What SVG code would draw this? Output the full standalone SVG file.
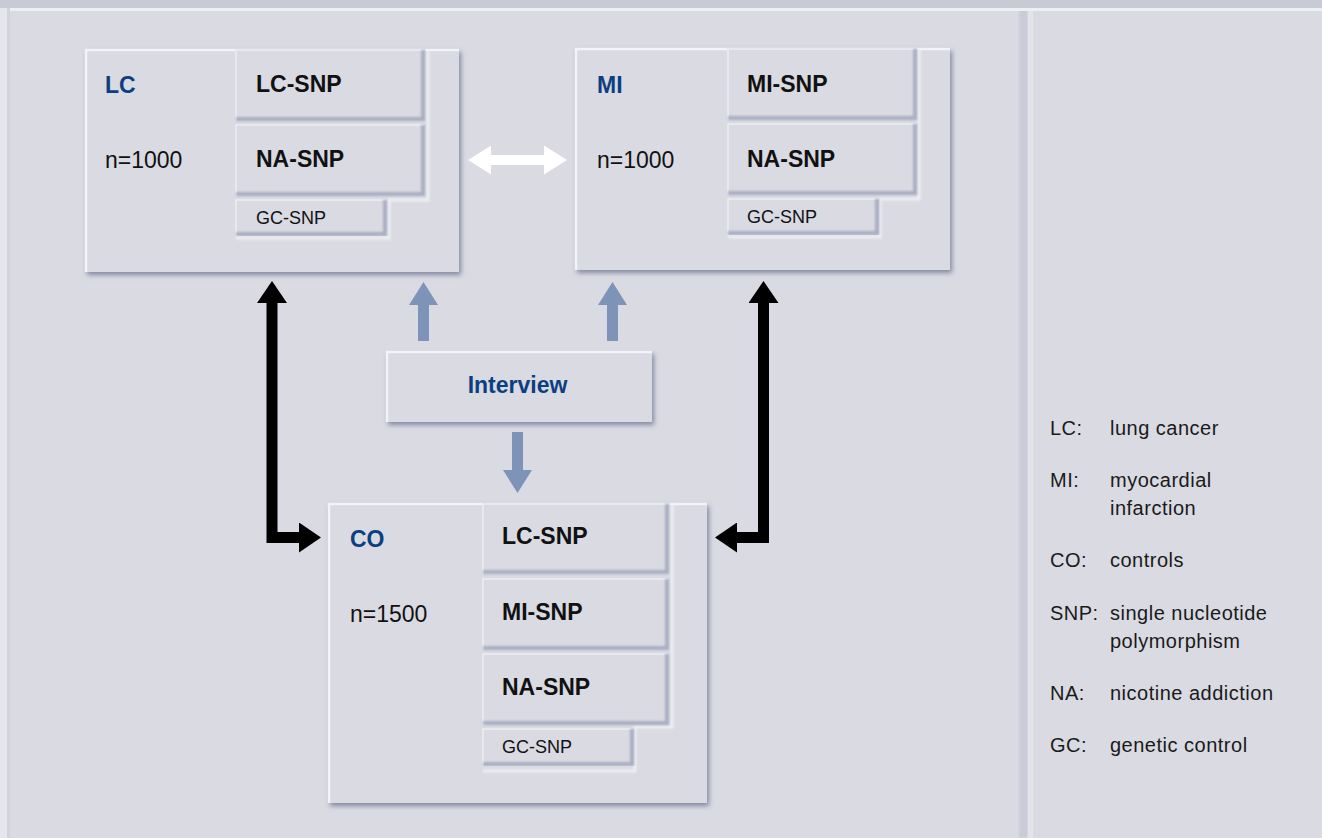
<svg xmlns="http://www.w3.org/2000/svg" width="1322" height="838" viewBox="0 0 1322 838">
  <style>
    text { font-family: "Liberation Sans", Arial, Helvetica, sans-serif; }
    .box { fill: #d9dae2; }
    .hl { fill: none; stroke: #f3f4f7; stroke-width: 2.5; }
    .cell { fill: #d9dae2; }
    .chl { fill: none; stroke: #eceef3; stroke-width: 1.5; }
    .cdk { fill: none; stroke: #a9aec3; stroke-width: 4; }
    .ridge { fill: none; stroke: #eef0f4; stroke-width: 3; }
    .title { font-size: 23px; font-weight: bold; fill: #0d3f80; }
    .n { font-size: 23px; fill: #111; }
    .snp { font-size: 23px; font-weight: bold; fill: #111; }
    .gc { font-size: 18px; fill: #111; }
    .leg { font-size: 20px; fill: #1a1a1a; letter-spacing: 0.5px; }
    .blk { fill: none; stroke: #000; stroke-width: 11; stroke-linejoin: miter; }
    .blu { fill: none; stroke: #7d93b8; stroke-width: 11; }
    .wht { fill: none; stroke: #ffffff; stroke-width: 10; }
  </style>
  <defs>
    <filter id="sh" x="-5%" y="-5%" width="115%" height="120%">
      <feGaussianBlur in="SourceAlpha" stdDeviation="2.5"/>
      <feOffset dx="2" dy="3" result="b"/>
      <feFlood flood-color="#6f7592" flood-opacity="0.8"/>
      <feComposite in2="b" operator="in"/>
      <feMerge><feMergeNode/><feMergeNode in="SourceGraphic"/></feMerge>
    </filter>
    <filter id="soft" x="-5%" y="-5%" width="110%" height="110%">
      <feGaussianBlur stdDeviation="1"/>
    </filter>
    <marker id="hb" markerUnits="userSpaceOnUse" markerWidth="22" markerHeight="30" refX="0" refY="15" orient="auto-start-reverse" viewBox="0 0 22 30">
      <path d="M0,0 L22,15 L0,30 Z" fill="#000"/>
    </marker>
    <marker id="hu" markerUnits="userSpaceOnUse" markerWidth="23" markerHeight="29" refX="0" refY="14.5" orient="auto-start-reverse" viewBox="0 0 23 29">
      <path d="M0,0 L23,14.5 L0,29 Z" fill="#7d93b8"/>
    </marker>
    <marker id="hw" markerUnits="userSpaceOnUse" markerWidth="23" markerHeight="29" refX="0" refY="14.5" orient="auto-start-reverse" viewBox="0 0 23 29">
      <path d="M0,0 L23,14.5 L0,29 Z" fill="#ffffff"/>
    </marker>
  </defs>

  <!-- background -->
  <rect x="0" y="0" width="1322" height="838" fill="#e6e7ec"/>
  <rect x="0" y="0" width="1322" height="8" fill="#c8cad4"/>
  <rect x="7" y="8" width="1015" height="830" fill="#d9dae2"/>
  <rect x="1028" y="8" width="294" height="830" fill="#d9dae2"/>
  <rect x="1019" y="8" width="9" height="830" fill="#c9ccd8" filter="url(#soft)"/>
  <rect x="1028" y="8" width="5" height="830" fill="#e3e4ea"/>
  <rect x="7" y="8" width="1315" height="3" fill="#eeeff3"/>
  <rect x="7" y="8" width="3" height="830" fill="#d2d4dc"/>

  <!-- LC node -->
  <g id="node-lc">
    <rect class="box" x="85" y="49" width="374" height="223" filter="url(#sh)"/>
    <path class="hl" d="M86,272 V50 H459"/>
    <path class="ridge" d="M428,50 V200 H389 V238 H236" filter="url(#soft)"/>
    <rect class="cell" x="235" y="49" width="190" height="72"/>
    <path class="chl" d="M236,121 V50 H424"/>
    <path class="cdk" d="M423,50 V119 H236" filter="url(#soft)"/>
    <rect class="cell" x="235" y="124" width="190" height="72"/>
    <path class="chl" d="M236,196 V125 H424"/>
    <path class="cdk" d="M423,125 V194 H236" filter="url(#soft)"/>
    <rect class="cell" x="235" y="199" width="152" height="37"/>
    <path class="chl" d="M236,236 V200 H386"/>
    <path class="cdk" d="M385,200 V234 H236" filter="url(#soft)"/>
    <text class="title" x="105" y="93">LC</text>
    <text class="n" x="105" y="168">n=1000</text>
    <text class="snp" x="256" y="92">LC-SNP</text>
    <text class="snp" x="256" y="167">NA-SNP</text>
    <text class="gc" x="256" y="224">GC-SNP</text>
  </g>

  <!-- MI node -->
  <g id="node-mi">
    <rect class="box" x="575" y="48" width="375" height="222" filter="url(#sh)"/>
    <path class="hl" d="M576,270 V49 H950"/>
    <path class="ridge" d="M919,49 V199 H880 V237 H728" filter="url(#soft)"/>
    <rect class="cell" x="727" y="48" width="190" height="72"/>
    <path class="chl" d="M728,120 V49 H916"/>
    <path class="cdk" d="M915,49 V118 H728" filter="url(#soft)"/>
    <rect class="cell" x="727" y="123" width="190" height="72"/>
    <path class="chl" d="M728,195 V124 H916"/>
    <path class="cdk" d="M915,124 V193 H728" filter="url(#soft)"/>
    <rect class="cell" x="727" y="198" width="152" height="37"/>
    <path class="chl" d="M728,235 V199 H878"/>
    <path class="cdk" d="M877,199 V233 H728" filter="url(#soft)"/>
    <text class="title" x="597" y="93">MI</text>
    <text class="n" x="597" y="168">n=1000</text>
    <text class="snp" x="747" y="92">MI-SNP</text>
    <text class="snp" x="747" y="167">NA-SNP</text>
    <text class="gc" x="747" y="223">GC-SNP</text>
  </g>

  <!-- Interview node -->
  <g id="node-interview">
    <rect class="box" x="386" y="351" width="266" height="71" filter="url(#sh)"/>
    <path class="hl" d="M387,422 V352 H652"/>
    <text class="title" x="517.5" y="393" text-anchor="middle">Interview</text>
  </g>

  <!-- CO node -->
  <g id="node-co">
    <rect class="box" x="328" y="503" width="379" height="300" filter="url(#sh)"/>
    <path class="hl" d="M329,803 V504 H707"/>
    <path class="ridge" d="M672,504 V727 H635 V771 H483" filter="url(#soft)"/>
    <rect class="cell" x="482" y="503" width="187" height="71"/>
    <path class="chl" d="M483,574 V504 H668"/>
    <path class="cdk" d="M667,504 V572 H483" filter="url(#soft)"/>
    <rect class="cell" x="482" y="578" width="187" height="72"/>
    <path class="chl" d="M483,650 V579 H668"/>
    <path class="cdk" d="M667,579 V648 H483" filter="url(#soft)"/>
    <rect class="cell" x="482" y="653" width="187" height="72"/>
    <path class="chl" d="M483,725 V654 H668"/>
    <path class="cdk" d="M667,654 V723 H483" filter="url(#soft)"/>
    <rect class="cell" x="482" y="728" width="152" height="38"/>
    <path class="chl" d="M483,766 V729 H633"/>
    <path class="cdk" d="M632,729 V764 H483" filter="url(#soft)"/>
    <text class="title" x="350" y="547">CO</text>
    <text class="n" x="350" y="622">n=1500</text>
    <text class="snp" x="502" y="544">LC-SNP</text>
    <text class="snp" x="502" y="620">MI-SNP</text>
    <text class="snp" x="502" y="695">NA-SNP</text>
    <text class="gc" x="502" y="753">GC-SNP</text>
  </g>

  <!-- connectors -->
  <g id="connectors">
    <polyline class="wht" points="491,160 544,160" marker-start="url(#hw)" marker-end="url(#hw)"/>
    <polyline class="blk" points="272,303 272,537.5 299,537.5" marker-start="url(#hb)" marker-end="url(#hb)"/>
    <polyline class="blk" points="763.5,303 763.5,537.5 737,537.5" marker-start="url(#hb)" marker-end="url(#hb)"/>
    <polyline class="blu" points="423.5,341 423.5,305" marker-end="url(#hu)"/>
    <polyline class="blu" points="612.5,341 612.5,305" marker-end="url(#hu)"/>
    <polyline class="blu" points="517.5,432 517.5,470" marker-end="url(#hu)"/>
  </g>

  <!-- legend -->
  <g id="legend">
    <text class="leg" x="1050" y="435">LC:</text>
    <text class="leg" x="1110" y="435">lung cancer</text>
    <text class="leg" x="1050" y="487">MI:</text>
    <text class="leg" x="1110" y="487">myocardial</text>
    <text class="leg" x="1110" y="515">infarction</text>
    <text class="leg" x="1050" y="567">CO:</text>
    <text class="leg" x="1110" y="567">controls</text>
    <text class="leg" x="1050" y="620">SNP:</text>
    <text class="leg" x="1110" y="620">single nucleotide</text>
    <text class="leg" x="1110" y="648">polymorphism</text>
    <text class="leg" x="1050" y="700">NA:</text>
    <text class="leg" x="1110" y="700">nicotine addiction</text>
    <text class="leg" x="1050" y="752">GC:</text>
    <text class="leg" x="1110" y="752">genetic control</text>
  </g>
</svg>
